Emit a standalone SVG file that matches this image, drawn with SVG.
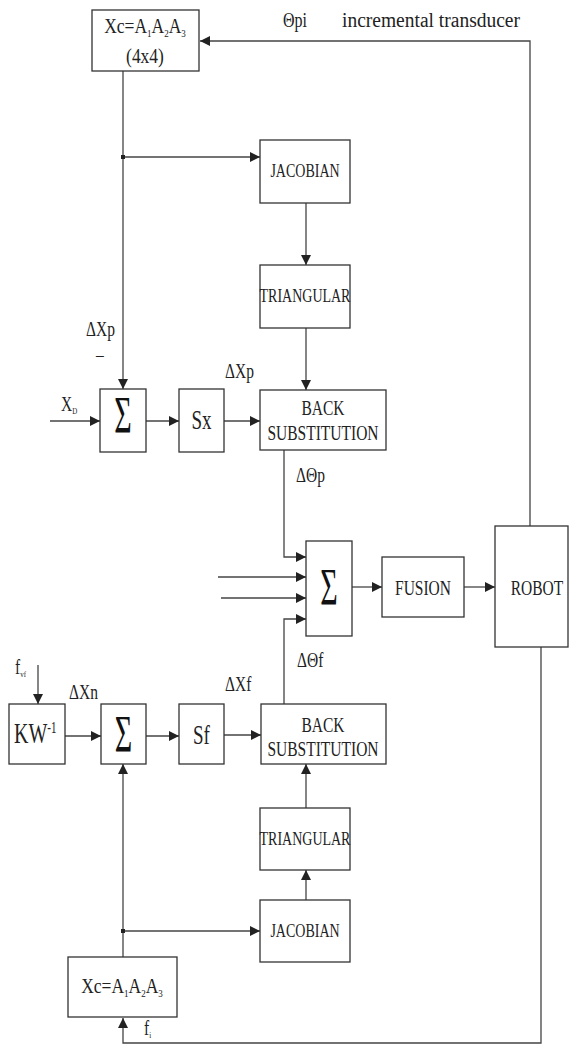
<svg xmlns="http://www.w3.org/2000/svg" width="582" height="1046" viewBox="0 0 582 1046">
<style>
.box{fill:#fff;stroke:#333;stroke-width:1.3}
.ln{fill:none;stroke:#444;stroke-width:1.3}
text{font-family:"Liberation Serif","Times New Roman","DejaVu Serif",serif;fill:#222}
.t{font-size:15.5px;text-anchor:middle}
.l{font-size:15.5px}
.sig{font-size:40px;fill:#111;text-anchor:middle}
.sub{font-size:9px}
.tiny{font-size:7px}
</style>
<defs>
<marker id="ah" markerUnits="userSpaceOnUse" markerWidth="11" markerHeight="10" refX="10" refY="5" orient="auto">
<path d="M0,0 L10,5 L0,10 z" fill="#222"/>
</marker>
</defs>

<g id="connectors">
<polyline class="ln" points="530,526 530,41 200,41" marker-end="url(#ah)"/>
<polyline class="ln" points="123,71 123,389" marker-end="url(#ah)"/>
<polyline class="ln" points="123,157 260,157" marker-end="url(#ah)"/>
<rect x="121" y="155" width="4" height="4" fill="#222"/>
<polyline class="ln" points="306,203 306,265" marker-end="url(#ah)"/>
<polyline class="ln" points="306,328 306,390" marker-end="url(#ah)"/>
<polyline class="ln" points="50,421 100,421" marker-end="url(#ah)"/>
<polyline class="ln" points="146,421 179,421" marker-end="url(#ah)"/>
<polyline class="ln" points="224,421 260,421" marker-end="url(#ah)"/>
<polyline class="ln" points="284,450 284,557 306,557" marker-end="url(#ah)"/>
<polyline class="ln" points="218,577 306,577" marker-end="url(#ah)"/>
<polyline class="ln" points="221,598 306,598" marker-end="url(#ah)"/>
<polyline class="ln" points="284,704 284,619 306,619" marker-end="url(#ah)"/>
<polyline class="ln" points="352,587 382,587" marker-end="url(#ah)"/>
<polyline class="ln" points="464,587 495,587" marker-end="url(#ah)"/>
<polyline class="ln" points="541,647 541,1043 123,1043 123,1018" marker-end="url(#ah)"/>
<polyline class="ln" points="38,665 38,704" marker-end="url(#ah)"/>
<polyline class="ln" points="65,736 101,736" marker-end="url(#ah)"/>
<polyline class="ln" points="146,736 179,736" marker-end="url(#ah)"/>
<polyline class="ln" points="224,735 261,735" marker-end="url(#ah)"/>
<polyline class="ln" points="306,808 306,764" marker-end="url(#ah)"/>
<polyline class="ln" points="306,900 306,870" marker-end="url(#ah)"/>
<polyline class="ln" points="123,957 123,764" marker-end="url(#ah)"/>
<polyline class="ln" points="123,931 260,931" marker-end="url(#ah)"/>
<rect x="121" y="929" width="4" height="4" fill="#222"/>
</g>

<g id="xc-top">
<rect class="box" x="92" y="10" width="107" height="61"/>
<text class="t" transform="translate(145,33) scale(1,1.2)" style="font-size:17.5px">Xc=A<tspan class="sub" dy="3">1</tspan><tspan dy="-3">A</tspan><tspan class="sub" dy="3">2</tspan><tspan dy="-3">A</tspan><tspan class="sub" dy="3">3</tspan></text>
<text class="t" transform="translate(145,63) scale(1,1.2)" style="font-size:17.5px">(4x4)</text>
</g>

<g id="feedback-label">
<text class="l" transform="translate(283,27) scale(1,1.25)" style="font-size:16px">Θpi</text>
<text class="l" transform="translate(342,27) scale(1,1.25)" style="font-size:16px" textLength="178" lengthAdjust="spacingAndGlyphs">incremental transducer</text>
</g>

<g id="jacobian-top">
<rect class="box" x="260" y="140" width="90" height="63"/>
<text class="t" transform="translate(305,177) scale(1,1.3)" style="font-size:14px">JACOBIAN</text>
</g>

<g id="triangular-top">
<rect class="box" x="260" y="265" width="90" height="63"/>
<text class="t" transform="translate(305,302) scale(1,1.3)" style="font-size:14px">TRIANGULAR</text>
</g>

<g id="sum-top">
<rect class="box" x="100" y="389" width="46" height="63"/>
<text class="sig" transform="translate(123,433) scale(0.75,1.3)">Σ</text>
</g>

<g id="sx">
<rect class="box" x="179" y="389" width="45" height="63"/>
<text class="t" transform="translate(201.5,429) scale(1,1.45)" style="font-size:19px">Sx</text>
</g>

<g id="back-top">
<rect class="box" x="260" y="390" width="126" height="60"/>
<text class="t" transform="translate(323,415) scale(1,1.3)">BACK</text>
<text class="t" transform="translate(323,440) scale(1,1.3)">SUBSTITUTION</text>
</g>

<g id="sum-center">
<rect class="box" x="306" y="541" width="46" height="95"/>
<text class="sig" transform="translate(329,605) scale(0.75,1.3)">Σ</text>
</g>

<g id="fusion">
<rect class="box" x="382" y="557" width="82" height="60"/>
<text class="t" transform="translate(423,595) scale(1,1.35)">FUSION</text>
</g>

<g id="robot">
<rect class="box" x="495" y="526" width="73" height="121"/>
<text class="t" transform="translate(537,595) scale(1,1.35)">ROBOT</text>
</g>

<g id="kw">
<rect class="box" x="9" y="704" width="56" height="60"/>
<text class="l" transform="translate(14,743) scale(1,1.5)" style="font-size:20px">KW<tspan style="font-size:11px" dy="-7">-1</tspan></text>
</g>

<g id="sum-bottom">
<rect class="box" x="101" y="704" width="45" height="60"/>
<text class="sig" transform="translate(123.5,752) scale(0.75,1.3)">Σ</text>
</g>

<g id="sf">
<rect class="box" x="179" y="704" width="45" height="60"/>
<text class="t" transform="translate(201.5,744) scale(1,1.45)" style="font-size:19px">Sf</text>
</g>

<g id="back-bottom">
<rect class="box" x="261" y="704" width="125" height="60"/>
<text class="t" transform="translate(323,732) scale(1,1.3)">BACK</text>
<text class="t" transform="translate(323,756) scale(1,1.3)">SUBSTITUTION</text>
</g>

<g id="triangular-bottom">
<rect class="box" x="260" y="808" width="90" height="62"/>
<text class="t" transform="translate(305,845) scale(1,1.3)" style="font-size:14px">TRIANGULAR</text>
</g>

<g id="jacobian-bottom">
<rect class="box" x="260" y="900" width="90" height="62"/>
<text class="t" transform="translate(305,937) scale(1,1.3)" style="font-size:14px">JACOBIAN</text>
</g>

<g id="xc-bottom">
<rect class="box" x="68" y="957" width="109" height="60"/>
<text class="t" transform="translate(122,993) scale(1,1.2)" style="font-size:17.5px">Xc=A<tspan class="sub" dy="3">1</tspan><tspan dy="-3">A</tspan><tspan class="sub" dy="3">2</tspan><tspan dy="-3">A</tspan><tspan class="sub" dy="3">3</tspan></text>
</g>

<g id="labels">
<text class="l" transform="translate(86,336) scale(1,1.3)">ΔXp</text>
<text class="l" transform="translate(96,362) scale(1,1.3)">–</text>
<text class="l" transform="translate(61,411) scale(1,1.3)">X<tspan class="tiny" dy="2">D</tspan></text>
<text class="l" transform="translate(225,378) scale(1,1.3)">ΔXp</text>
<text class="l" transform="translate(296,482) scale(1,1.3)">ΔΘp</text>
<text class="l" transform="translate(297,667) scale(1,1.3)">ΔΘf</text>
<text class="l" transform="translate(225,691) scale(1,1.3)">ΔXf</text>
<text class="l" transform="translate(69,699) scale(1,1.3)">ΔXn</text>
<text class="l" transform="translate(15,674) scale(1,1.3)">f<tspan class="tiny" dy="2">vf</tspan></text>
<text class="l" transform="translate(144,1035) scale(1,1.3)">f<tspan class="tiny" dy="2">i</tspan></text>
</g>
</svg>
